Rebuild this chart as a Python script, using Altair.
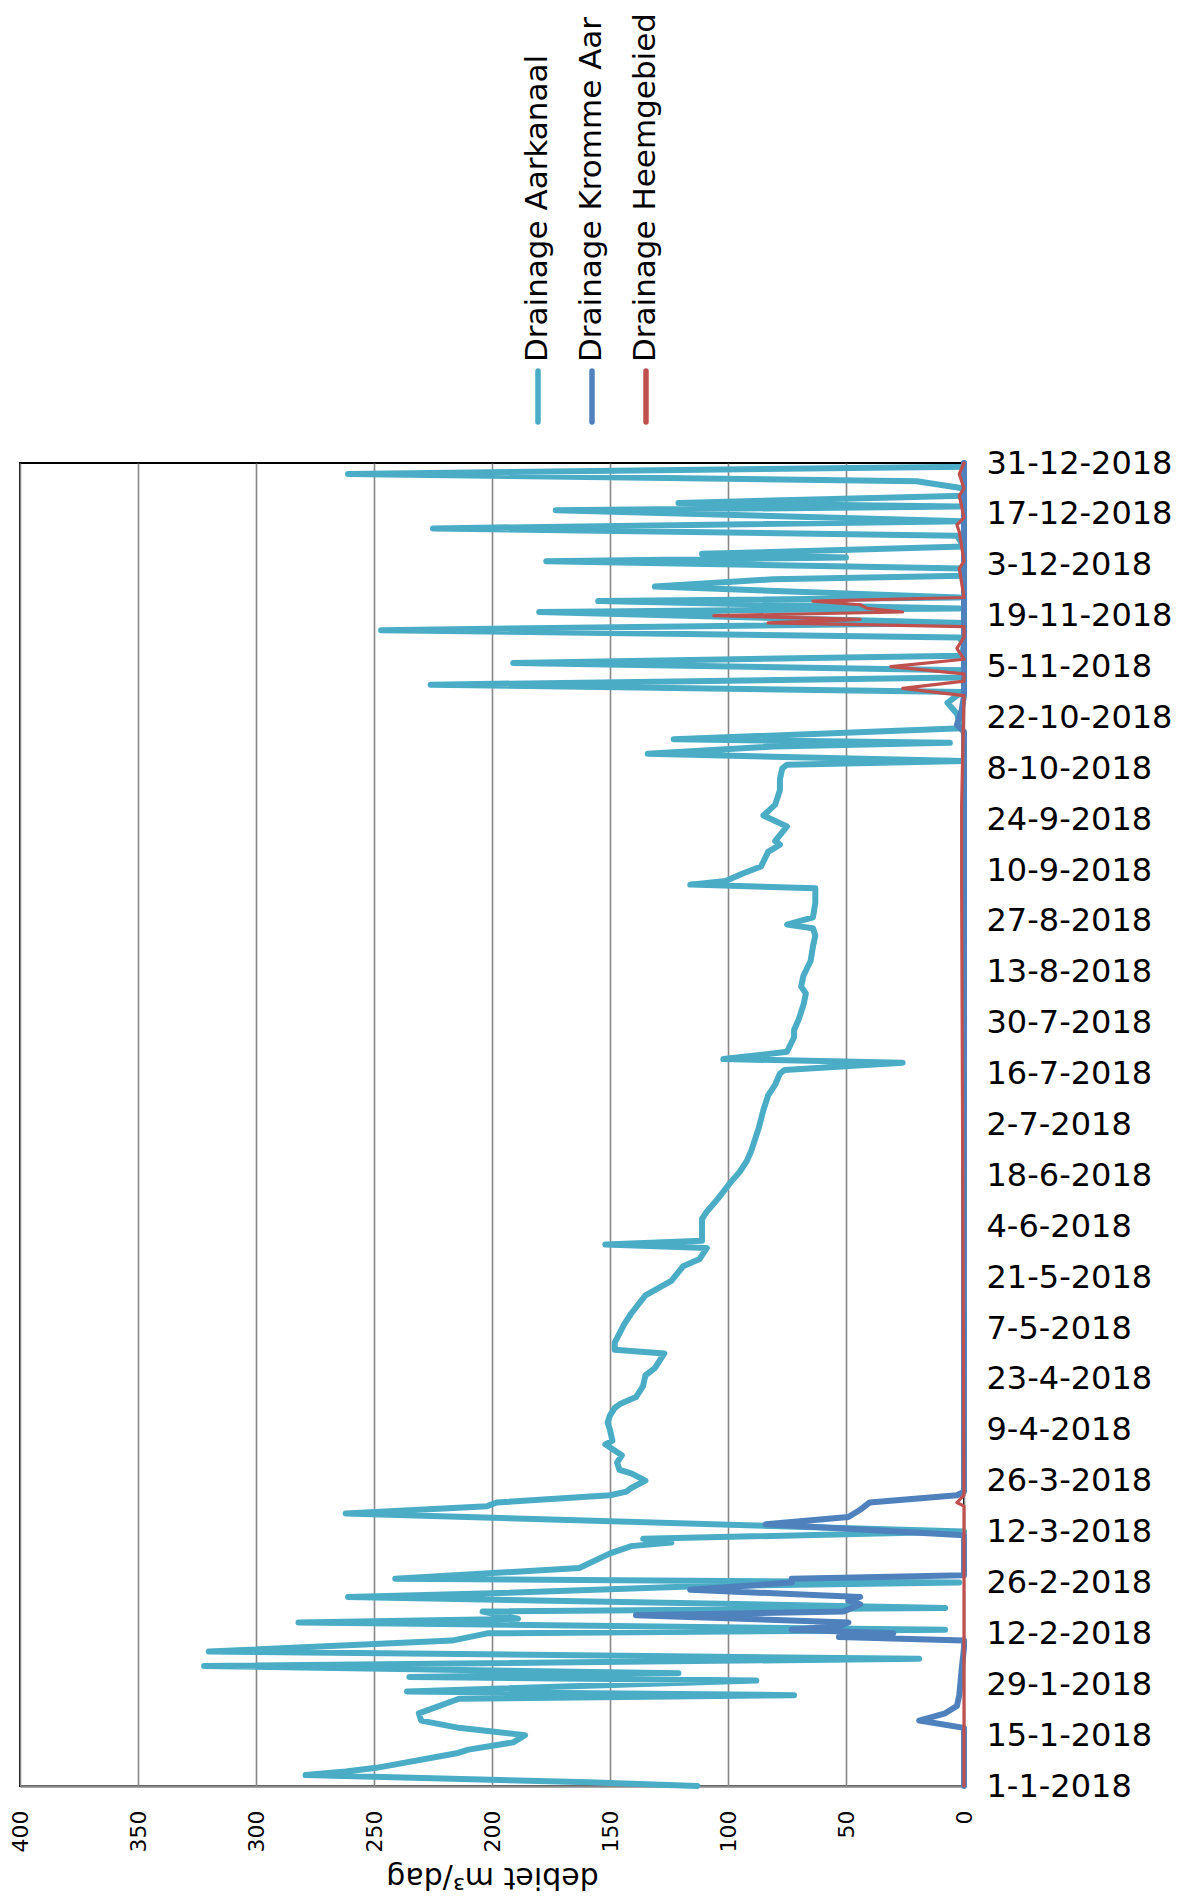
import altair as alt
import pandas as pd

series_names = ["Drainage Aarkanaal", "Drainage Kromme Aar", "Drainage Heemgebied"]
series_colors = ["#4BACC6", "#4F81BD", "#C0504D"]

# day offset from 1-1-2018, value in m3/dag
aar_days = [0, 1, 3, 4, 5, 9, 10, 12, 14, 16, 18, 20, 24, 25, 26, 29, 30, 31, 33, 35,
            37, 40, 42, 43, 45, 46, 48, 49, 52, 53, 55, 56, 57, 60, 64, 66, 67, 68, 70, 75,
            77, 78, 80, 81, 82, 84, 86, 87, 89, 91, 94, 95, 98, 100, 102, 104, 105, 107, 109, 110,
            113, 115, 118, 119, 120, 122,
            127, 130, 135, 139, 143, 145, 148, 149, 150, 153, 156, 158, 161, 166, 169, 172, 175, 181, 186, 190,
            193, 196, 197, 199, 200, 202, 206, 208, 211, 215, 218, 220, 223, 227, 231, 234, 236, 237, 239, 243,
            247, 248, 249, 251, 253, 257, 259, 260, 264, 267, 270, 274, 277, 280, 281, 282, 284, 286, 287, 288,
            291, 295, 298, 300, 301, 303, 305, 307, 309, 311, 314, 316, 318, 320, 323, 324, 326, 327, 330, 332,
            333, 335, 337, 338, 339, 341, 344, 346, 348, 351, 352, 353, 355, 357, 359, 361, 363, 364]
aar_vals = [113, 159, 279, 262, 249, 215, 210, 191, 186, 214, 230, 231, 214, 72, 236, 88, 235, 121, 322, 19,
            320, 217, 202, 8, 282, 189, 204, 8, 261, 200, 110, 2, 241, 163, 150, 141, 124, 136, 0, 262,
            202, 198, 150, 143, 141, 135, 141, 146, 147, 145, 152, 149, 150, 151, 150, 148, 146, 139, 137, 136,
            135, 131, 128, 127, 148, 148,
            144, 141, 135, 124, 119, 112, 109, 152, 111, 111, 111, 109, 105, 99, 95, 92, 90, 87, 85, 83,
            80, 78, 76, 26, 102, 75, 72, 72, 70, 68, 67, 69, 68, 65, 64, 63, 64, 75, 64, 63,
            63, 116, 101, 94, 86, 83, 78, 80, 75, 85, 80, 78, 78, 77, 75, 0, 134, 81, 6, 123,
            1, 3, 7, 3, 0, 226, 2, 0, 191, 1, 0, 2, 247, 0, 180, 2, 155, 2, 131, 81,
            0, 0, 177, 50, 111, 0, 3, 225, 0, 173, 2, 121, 0, 0, 20, 261, 0, 0]

kro_days = [0, 16, 18, 20, 22, 25, 32, 38, 40, 41, 42, 43, 44, 45, 47, 48, 50, 51, 52, 54,
            56, 57, 58, 69, 72, 74, 76, 78, 80, 81, 290, 292, 296, 300, 364]
kro_vals = [0, 0, 19, 8, 3, 2, 1, 0, 0, 53, 30, 73, 53, 49, 139, 51, 44, 49, 44, 116,
            73, 73, 0, 0, 84, 49, 44, 40, 3, 0, 0, 3, 1, 0, 0]

hee_days = [0, 77, 78, 80, 248, 256, 270, 300, 302, 304, 306, 308, 310, 313, 316, 319, 320, 321, 322, 323,
            324, 325, 326, 327, 335, 337, 345, 347, 349, 355, 357, 361, 364]
hee_vals = [0, 0, 3, 0, 1, 1, 1, 0, 26, 0, 0, 31, 0, 3, 0, 0, 83, 44, 106, 26,
            41, 44, 64, 0, 2, 0, 2, 3, 0, 2, 0, 2, 0]

tick_labels = ["1-1-2018", "15-1-2018", "29-1-2018", "12-2-2018", "26-2-2018", "12-3-2018",
               "26-3-2018", "9-4-2018", "23-4-2018", "7-5-2018", "21-5-2018", "4-6-2018",
               "18-6-2018", "2-7-2018", "16-7-2018", "30-7-2018", "13-8-2018", "27-8-2018",
               "10-9-2018", "24-9-2018", "8-10-2018", "22-10-2018", "5-11-2018", "19-11-2018",
               "3-12-2018", "17-12-2018", "31-12-2018"]
value_ticks = [0, 50, 100, 150, 200, 250, 300, 350, 400]

FONT = "DejaVu Sans"


def frame(days, vals, name):
    dates = (pd.Timestamp("2018-01-01") + pd.to_timedelta(days, unit="D")).strftime("%Y-%m-%d")
    return pd.DataFrame({"date": list(dates), "value": vals, "series": name})


def to_dt(s):
    d, m, y = s.split("-")
    return alt.DateTime(year=int(y), month=int(m), date=int(d), utc=True)


date_ticks = [to_dt(s) for s in tick_labels]

x_axis = alt.Axis(
    values=value_ticks, grid=True, gridColor="#888888", gridWidth=1.6,
    domain=True, domainColor="#888888", domainWidth=2.5, ticks=False,
    labelAngle=270, labelFontSize=22, labelFont=FONT, labelColor="#000000",
    labelPadding=24, labelFlush=False, labelOverlap=False,
    title="debiet m³/dag", titleAngle=180, titleFontSize=30, titleFont=FONT,
    titleFontWeight="normal", titleColor="#000000", titlePadding=40,
)
y_axis = alt.Axis(
    values=date_ticks, orient="right", grid=False, domain=False, ticks=False,
    labelExpr="utcFormat(datum.value, '%-d-%-m-%Y')", labelFontSize=32, labelFont=FONT,
    labelColor="#000000", labelPadding=22, labelAlign="left", labelBaseline="middle",
    labelOverlap=False, labelFlush=False, labelLimit=0, title=None,
)

x_enc = alt.X("value:Q", scale=alt.Scale(domain=[0, 400], reverse=True, nice=False), axis=x_axis)
y_enc = alt.Y("date:T", scale=alt.Scale(type="utc", domain=[date_ticks[0], date_ticks[-1]], nice=False),
              axis=y_axis)


def line_layer(df, color, width):
    return alt.Chart(df).mark_line(
        color=color, strokeWidth=width, strokeCap="round", strokeJoin="round"
    ).encode(x=x_enc, y=y_enc, order=alt.Order("date:T"))


lines = alt.layer(
    line_layer(frame(aar_days, aar_vals, series_names[0]), series_colors[0], 6),
    line_layer(frame(kro_days, kro_vals, series_names[1]), series_colors[1], 6),
    line_layer(frame(hee_days, hee_vals, series_names[2]), series_colors[2], 3.2),
)

legend_df = pd.DataFrame({"series": series_names, "idx": [0, 1, 2]})
legend_x = alt.X("idx:Q", scale=alt.Scale(domain=[0, 2], range=[518, 626], nice=False, zero=False), axis=None)
legend_color = alt.Color("series:N", scale=alt.Scale(domain=series_names, range=series_colors), legend=None)

leg_rules = alt.Chart(legend_df).mark_rule(strokeCap="round").encode(
    x=legend_x, y=alt.value(-92), y2=alt.value(-41), color=legend_color,
    strokeWidth=alt.StrokeWidth("series:N", scale=alt.Scale(domain=series_names, range=[5.5, 5.5, 3]), legend=None),
)
leg_text = alt.Chart(legend_df).mark_text(
    angle=270, align="left", baseline="middle", fontSize=31, font=FONT, color="#000000"
).encode(x=legend_x, y=alt.value(-101), text="series:N")

legend = alt.layer(leg_rules, leg_text)

chart = alt.layer(lines, legend).resolve_scale(
    x="independent"
).properties(
    width=944, height=1323,
    padding={"left": 12, "top": 455, "right": 219, "bottom": 110},
    autosize=alt.AutoSizeParams(type="none"),
    background="white",
).configure_view(stroke="#000000", strokeWidth=2)

chart.save("out.html", embed_options={"renderer": "svg", "actions": False})
